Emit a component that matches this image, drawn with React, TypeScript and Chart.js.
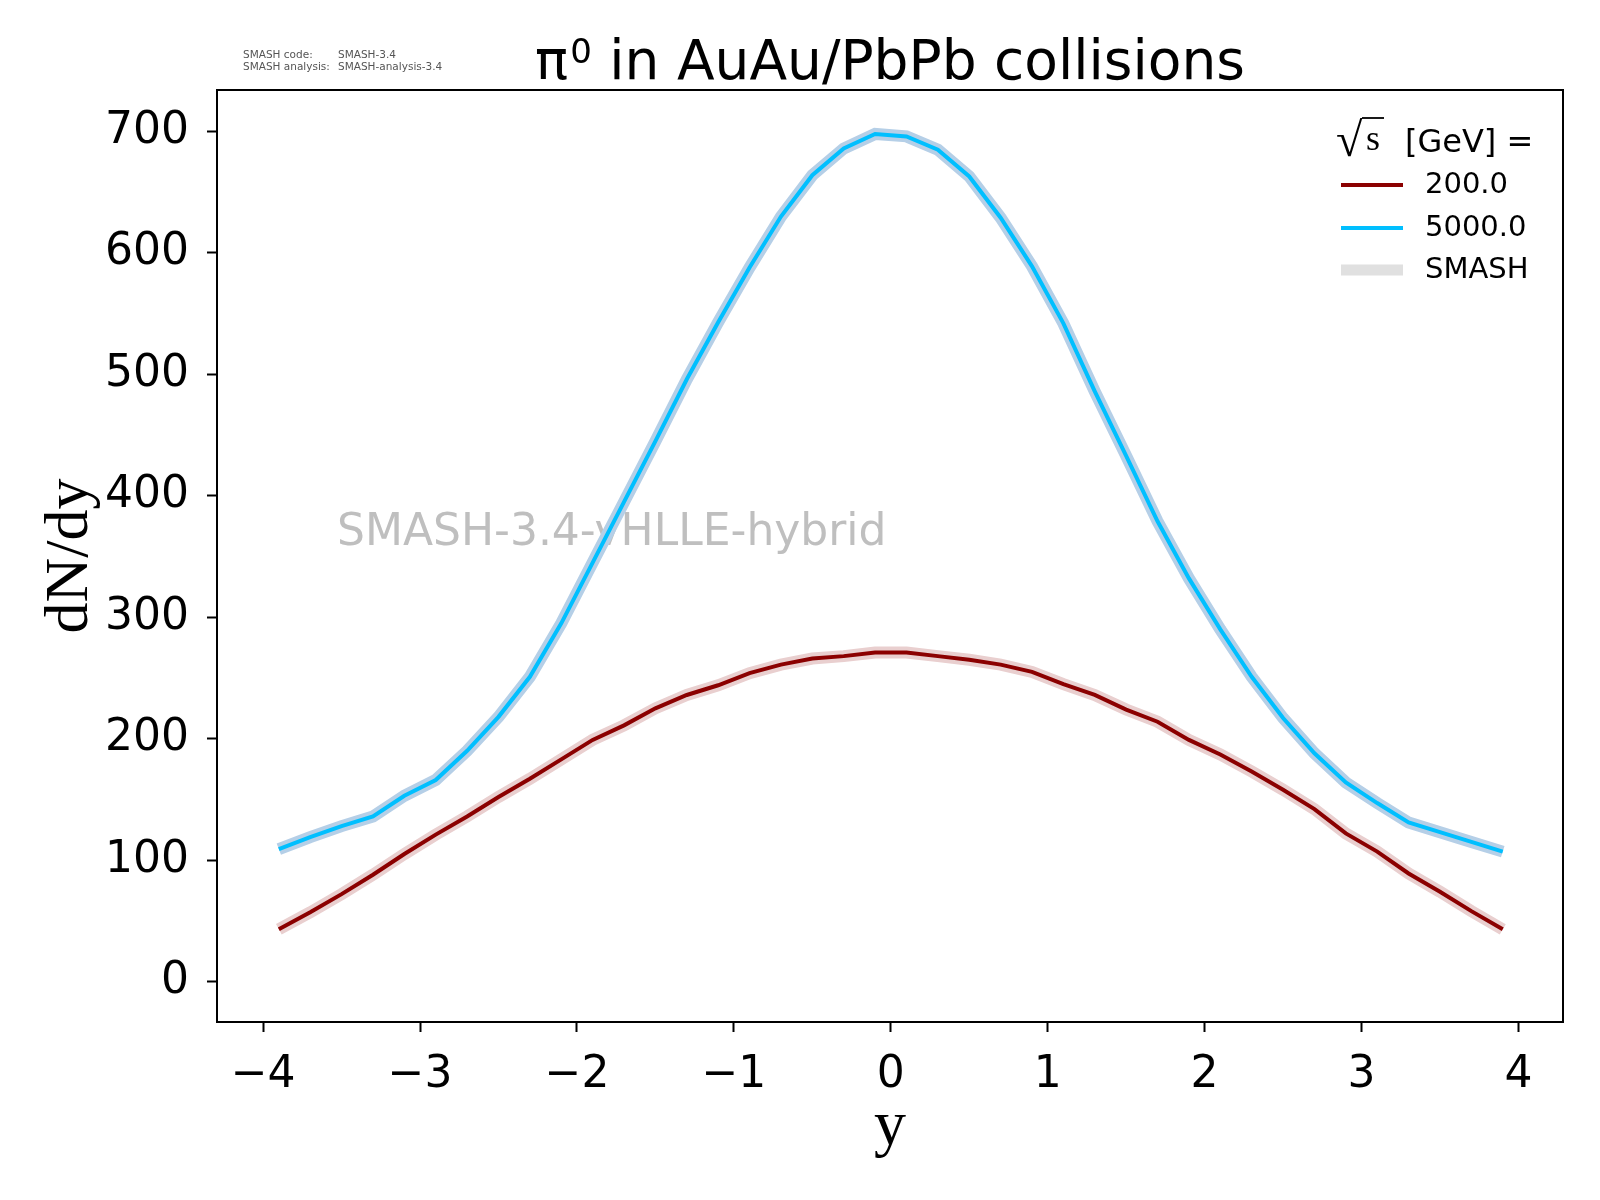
import { useEffect, useRef } from 'react';
import { Chart, registerables } from 'chart.js';
import type { Plugin } from 'chart.js';

Chart.register(...registerables);

// rapidity bins (bin centres)
const rapidity = [
  -3.9, -3.7, -3.5, -3.3, -3.1, -2.9, -2.7, -2.5, -2.3, -2.1,
  -1.9, -1.7, -1.5, -1.3, -1.1, -0.9, -0.7, -0.5, -0.3, -0.1,
  0.1, 0.3, 0.5, 0.7, 0.9, 1.1, 1.3, 1.5, 1.7, 1.9,
  2.1, 2.3, 2.5, 2.7, 2.9, 3.1, 3.3, 3.5, 3.7, 3.9,
];

// dN/dy, sqrt(s) = 200 GeV
const dndy200 = [
  43, 57, 72, 88, 105, 121, 136, 152, 167, 183,
  199, 211, 225, 236, 244, 254, 261, 266, 268, 271,
  271, 268, 265, 261, 255, 245, 236, 224, 214, 199,
  187, 173, 158, 142, 122, 107, 89, 74, 58, 43,
];

// dN/dy, sqrt(s) = 5000 GeV
const dndy5000 = [
  109, 119, 128, 136, 153, 166, 190, 218, 251, 295,
  345, 395, 445, 496, 543, 588, 630, 664, 686, 698,
  696, 685, 663, 629, 589, 542, 486, 433, 379, 332,
  290, 251, 217, 188, 164, 147, 131, 123, 115, 107,
];

const xTicks = [-4, -3, -2, -1, 0, 1, 2, 3, 4];
const yTicks = [0, 100, 200, 300, 400, 500, 600, 700];

const energies = ['200.0', '5000.0'];
const lineColors = ['#8b0000', '#00bfff'];
const bandColors = ['#e9cfcf', '#b5cfe7'];

const SANS = '"DejaVu Sans", sans-serif';
const SERIF = '"Liberation Serif", "DejaVu Serif", serif';

const decorPlugin: Plugin<'line'> = {
  id: 'decor',
  beforeDatasetsDraw(chart) {
    const { ctx } = chart;
    ctx.save();
    ctx.font = `44px ${SANS}`;
    ctx.fillStyle = '#bfbfbf';
    ctx.textBaseline = 'middle';
    ctx.textAlign = 'left';
    ctx.fillText('SMASH-3.4-vHLLE-hybrid', 337, 534);
    ctx.restore();
  },
  afterDraw(chart) {
    const { ctx, chartArea: a } = chart;
    ctx.save();

    // axes frame
    ctx.strokeStyle = '#000';
    ctx.lineWidth = 2;
    ctx.strokeRect(a.left, a.top, a.right - a.left, a.bottom - a.top);

    // title: pi^0 in AuAu/PbPb collisions
    ctx.fillStyle = '#000';
    ctx.textBaseline = 'alphabetic';
    ctx.textAlign = 'left';
    const big = `55px ${SANS}`;
    const sup = `34px ${SANS}`;
    ctx.font = big;
    const wPi = ctx.measureText('π').width;
    const rest = ' in AuAu/PbPb collisions';
    const wRest = ctx.measureText(rest).width;
    ctx.font = sup;
    const wSup = ctx.measureText('0').width;
    const total = wPi + 2 + wSup + wRest;
    let tx = (a.left + a.right) / 2 - total / 2;
    const ty = 79;
    ctx.font = big;
    ctx.fillText('π', tx, ty);
    tx += wPi + 2;
    ctx.font = sup;
    ctx.fillText('0', tx, ty - 16);
    tx += wSup;
    ctx.font = big;
    ctx.fillText(rest, tx, ty);

    // code info
    ctx.font = `10.5px ${SANS}`;
    ctx.fillStyle = '#555';
    ctx.textBaseline = 'middle';
    ctx.fillText('SMASH code:', 243, 55);
    ctx.fillText('SMASH-3.4', 338, 55);
    ctx.fillText('SMASH analysis:', 243, 67);
    ctx.fillText('SMASH-analysis-3.4', 338, 67);

    // axis titles
    ctx.fillStyle = '#000';
    ctx.font = `64px ${SERIF}`;
    ctx.textAlign = 'center';
    ctx.textBaseline = 'alphabetic';
    ctx.fillText('y', (a.left + a.right) / 2, 1144);
    ctx.save();
    ctx.font = `62px ${SERIF}`;
    ctx.translate(87, 556);
    ctx.rotate(-Math.PI / 2);
    ctx.fillText('dN/dy', 0, 0);
    ctx.restore();

    // legend title: sqrt(s) [GeV] =
    ctx.textAlign = 'left';
    ctx.textBaseline = 'alphabetic';
    ctx.font = `100px ${SERIF}`;
    const probe = ctx.measureText('√');
    const probeH = probe.actualBoundingBoxAscent + probe.actualBoundingBoxDescent;
    const radSize = (100 * 39) / probeH;
    ctx.font = `${radSize}px ${SERIF}`;
    const rad = ctx.measureText('√');
    const radBottom = 157;
    const radY = radBottom - rad.actualBoundingBoxDescent;
    const radX = 1337 + rad.actualBoundingBoxLeft;
    ctx.fillText('√', radX, radY);
    const radTop = radY - rad.actualBoundingBoxAscent;
    const radRight = radX + rad.actualBoundingBoxRight;
    ctx.font = `36px ${SERIF}`;
    ctx.fillText('s', 1366, 150);
    ctx.beginPath();
    ctx.lineWidth = 1.8;
    ctx.moveTo(radRight - 1, radTop + 1);
    ctx.lineTo(1384, radTop + 1);
    ctx.stroke();
    ctx.font = `32px ${SANS}`;
    ctx.fillText('[GeV] =', 1405, 152);

    // legend entries
    ctx.textBaseline = 'middle';
    ctx.font = `29px ${SANS}`;
    const rows = [185, 228, 270];
    const labels = [...energies, 'SMASH'];
    const colors = [...lineColors, '#e0e0e0'];
    const widths = [4, 4, 11];
    rows.forEach((ry, i) => {
      ctx.beginPath();
      ctx.strokeStyle = colors[i];
      ctx.lineWidth = widths[i];
      ctx.lineCap = 'butt';
      ctx.moveTo(1341, ry);
      ctx.lineTo(1403, ry);
      ctx.stroke();
      ctx.fillStyle = '#000';
      ctx.fillText(labels[i], 1425, ry);
    });

    ctx.restore();
  },
};

export default function App() {
  const canvasRef = useRef<HTMLCanvasElement>(null);
  const chartRef = useRef<Chart | null>(null);

  useEffect(() => {
    document.body.style.margin = '0';
    if (!canvasRef.current) return;
    if (chartRef.current) chartRef.current.destroy();

    const series = [dndy200, dndy5000];
    const toPoints = (ys: number[]) => rapidity.map((x, i) => ({ x, y: ys[i] }));

    const lines = series.map((ys, i) => ({
      label: energies[i],
      data: toPoints(ys),
      borderColor: lineColors[i],
      borderWidth: 4,
      pointRadius: 0,
      tension: 0,
      fill: false,
      order: 1,
    }));
    const bands = series.map((ys, i) => ({
      label: 'SMASH',
      data: toPoints(ys),
      borderColor: bandColors[i],
      borderWidth: 12,
      pointRadius: 0,
      tension: 0,
      fill: false,
      order: 2,
    }));

    chartRef.current = new Chart(canvasRef.current, {
      type: 'line',
      data: { datasets: [...lines, ...bands] },
      options: {
        responsive: false,
        devicePixelRatio: 1,
        animation: false,
        layout: { padding: { top: 90, right: 37, left: 0, bottom: 0 } },
        plugins: {
          legend: { display: false },
          title: { display: false },
          tooltip: { enabled: false },
        },
        scales: {
          x: {
            type: 'linear',
            min: -4.294,
            max: 4.284,
            afterFit: (s) => {
              s.height = 178;
            },
            afterBuildTicks: (s) => {
              s.ticks = xTicks.map((value) => ({ value }));
            },
            grid: {
              drawOnChartArea: false,
              drawTicks: true,
              tickLength: 10,
              tickWidth: 2,
              tickColor: '#000',
            },
            border: { display: true, color: '#000', width: 2 },
            ticks: {
              color: '#000',
              padding: 17,
              maxRotation: 0,
              font: { family: SANS, size: 44 },
              callback: (v) => {
                const n = Number(v);
                return n < 0 ? '\u2212' + Math.abs(n) : String(n);
              },
            },
          },
          y: {
            type: 'linear',
            min: -33.3,
            max: 734.2,
            afterFit: (s) => {
              s.width = 217;
            },
            afterBuildTicks: (s) => {
              s.ticks = yTicks.map((value) => ({ value }));
            },
            grid: {
              drawOnChartArea: false,
              drawTicks: true,
              tickLength: 10,
              tickWidth: 2,
              tickColor: '#000',
            },
            border: { display: true, color: '#000', width: 2 },
            ticks: {
              color: '#000',
              padding: 18,
              font: { family: SANS, size: 44 },
            },
          },
        },
      },
      plugins: [decorPlugin],
    });

    return () => {
      chartRef.current?.destroy();
      chartRef.current = null;
    };
  }, []);

  return (
    <div style={{ width: 1600, height: 1200, background: '#fff' }}>
      <canvas ref={canvasRef} width={1600} height={1200} />
    </div>
  );
}
